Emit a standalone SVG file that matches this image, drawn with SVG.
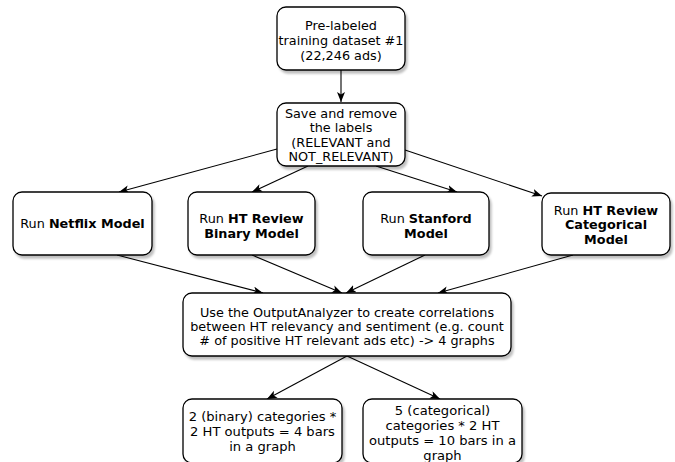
<svg xmlns="http://www.w3.org/2000/svg" width="675" height="462" viewBox="0 0 675 462">
<style>
.box{fill:#fff;stroke:#000;stroke-width:1.3;filter:url(#sh)}
.t{font-family:"DejaVu Sans",Verdana,sans-serif;font-size:12.8px;fill:#000;text-anchor:middle}
.l{font-size:13.1px}
.b{font-weight:bold}
.c{stroke:#000;stroke-width:1.1;fill:none;marker-end:url(#ah)}
</style>
<defs>
<filter id="sh" x="-10%" y="-10%" width="130%" height="140%">
<feDropShadow dx="2" dy="3" stdDeviation="1.2" flood-color="#000" flood-opacity="0.25"/>
</filter>
<marker id="ah" markerUnits="userSpaceOnUse" markerWidth="12" markerHeight="10" refX="10" refY="4" orient="auto">
<path d="M0,0 L10,4 L0,8 L2.5,4 Z" fill="#000"/>
</marker>
</defs>
<g id="connectors">
<line class="c" x1="341" y1="70" x2="341" y2="102"/>
<line class="c" x1="277" y1="149" x2="119" y2="192"/>
<line class="c" x1="308" y1="166" x2="252" y2="192"/>
<line class="c" x1="376" y1="166" x2="457" y2="192"/>
<line class="c" x1="405" y1="150" x2="542" y2="196"/>
<line class="c" x1="117" y1="255" x2="263" y2="293"/>
<line class="c" x1="252" y1="255" x2="342" y2="293"/>
<line class="c" x1="425" y1="255" x2="346" y2="293"/>
<line class="c" x1="573" y1="255" x2="438" y2="293"/>
<line class="c" x1="347" y1="356" x2="267" y2="399"/>
<line class="c" x1="347" y1="356" x2="440" y2="399"/>
</g>
<g id="n1">
<rect class="box" x="277" y="7" width="128" height="63" rx="9"/>
<text class="t" x="341" y="29.5">Pre-labeled</text>
<text class="t" x="341" y="44.5">training dataset #1</text>
<text class="t" x="341" y="59.5">(22,246 ads)</text>
</g>
<g id="n2">
<rect class="box" x="277" y="103" width="128" height="63" rx="9"/>
<text class="t" x="341" y="117.5">Save and remove</text>
<text class="t" x="341" y="132">the labels</text>
<text class="t" x="341" y="146.5">(RELEVANT and</text>
<text class="t" x="341" y="161">NOT_RELEVANT)</text>
</g>
<g id="n3">
<rect class="box" x="13" y="192" width="139" height="63" rx="9"/>
<text class="t" x="82.5" y="228">Run <tspan class="b">Netflix Model</tspan></text>
</g>
<g id="n4">
<rect class="box" x="188" y="192" width="127" height="63" rx="9"/>
<text class="t" x="251.5" y="222.5">Run <tspan class="b">HT Review</tspan></text>
<text class="t b" x="251.5" y="237.5">Binary Model</text>
</g>
<g id="n5">
<rect class="box" x="363" y="192" width="126" height="63" rx="9"/>
<text class="t" x="426" y="222.5">Run <tspan class="b">Stanford</tspan></text>
<text class="t b" x="426" y="237.5">Model</text>
</g>
<g id="n6">
<rect class="box" x="542" y="193" width="128" height="62" rx="9"/>
<text class="t" x="606" y="214.5">Run <tspan class="b">HT Review</tspan></text>
<text class="t b" x="606" y="229">Categorical</text>
<text class="t b" x="606" y="243.5">Model</text>
</g>
<g id="n7">
<rect class="box" x="183" y="293" width="328" height="63" rx="9"/>
<text class="t" x="347" y="317">Use the OutputAnalyzer to create correlations</text>
<text class="t" x="347" y="330.5">between HT relevancy and sentiment (e.g. count</text>
<text class="t" x="347" y="344.5"># of positive HT relevant ads etc) -&gt; 4 graphs</text>
</g>
<g id="n8">
<rect class="box" x="183" y="399" width="159" height="64" rx="9"/>
<text class="t l" x="262.5" y="420.5">2 (binary) categories *</text>
<text class="t l" x="262.5" y="435.5">2 HT outputs = 4 bars</text>
<text class="t l" x="262.5" y="450.5">in a graph</text>
</g>
<g id="n9">
<rect class="box" x="363" y="399" width="159" height="64" rx="9"/>
<text class="t l" x="442.5" y="414.5">5 (categorical)</text>
<text class="t l" x="442.5" y="429.5">categories * 2 HT</text>
<text class="t l" x="442.5" y="444.5">outputs = 10 bars in a</text>
<text class="t l" x="442.5" y="459.5">graph</text>
</g>
</svg>
